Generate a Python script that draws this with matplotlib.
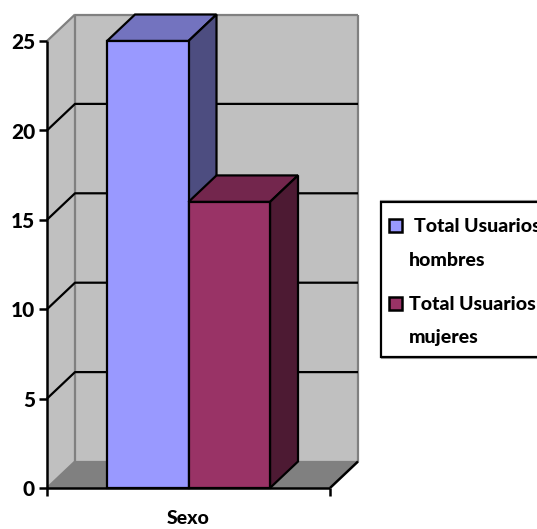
import matplotlib
matplotlib.use('Agg')
import matplotlib.pyplot as plt
from matplotlib.patches import Polygon, Rectangle

categoria = 'Sexo'
series = ['Total Usuarios\nhombres', 'Total Usuarios\nmujeres']
valores = [25, 16]
ticks_y = [0, 5, 10, 15, 20, 25]

W, H = 537, 529
plt.rcParams['font.family'] = ['Lato', 'DejaVu Sans']

fig = plt.figure(figsize=(W / 100, H / 100), dpi=100)
# plano frontal: 47..330 px en x, 488..41 px en y
ax = fig.add_axes([47 / W, 1 - 488 / H, 283 / W, 447 / H])
ax.set_xlim(0, 1)
ax.set_ylim(0, 25)
ax.axis('off')

dx = 28 / 283   # profundidad 3D
dy = 26.5 / 17.88
LW = 1.6
PESO = 900


def poly(puntos, color, ec='black', lw=LW, z=2):
    ax.add_patch(Polygon(puntos, closed=True, facecolor=color, edgecolor=ec,
                         linewidth=lw, zorder=z, clip_on=False, joinstyle='miter'))


def linea(xs, ys, color='black', lw=LW, z=1.5):
    ax.plot(xs, ys, color=color, lw=lw, zorder=z, clip_on=False, solid_capstyle='butt')


# paredes y piso
top = ticks_y[-1]
poly([(dx, dy), (1 + dx, dy), (1 + dx, top + dy), (dx, top + dy)], '#c0c0c0', 'none', 0, 1)
poly([(0, 0), (dx, dy), (dx, top + dy), (0, top)], '#c0c0c0', 'none', 0, 1)
poly([(0, 0), (1, 0), (1 + dx, dy), (dx, dy)], '#808080', 'none', 0, 1)
linea([dx, 1 + dx], [top + dy, top + dy], '#808080', 1.6, 1.2)
linea([0, dx], [top, top + dy], '#808080', 1.6, 1.2)
linea([dx, dx], [dy, top + dy], '#808080', 1.6, 1.2)
linea([1 + dx, 1 + dx], [dy, top + dy], '#808080', 1.6, 1.2)
linea([dx, 1 + dx], [dy, dy], '#808080', 1.6, 1.2)
linea([0, dx], [0, dy], '#808080', 1.6, 1.2)

# lineas de cuadricula
for t in ticks_y[1:-1]:
    linea([0, dx, 1 + dx], [t, t + dy, t + dy])

# ejes
linea([0, 0], [-0.45, top], 'black', 1.8, 3)
linea([0, 1], [0, 0], 'black', 1.8, 3)
linea([1, 1 + dx], [0, dy], 'black', 1.8, 1.6)
linea([1, 1], [-0.45, 0], 'black', 1.8, 3)
for t in ticks_y:
    linea([-8 / 283, 0], [t, t], 'black', 1.8, 3)
    ax.text(-12 / 283, t - 0.1, str(t), ha='right', va='center', fontsize=15, fontweight=PESO)

# barras
ancho = 81.5 / 283
inicio = 60 / 283
frente = ['#9999ff', '#993366']
arriba = ['#7373bf', '#73264d']
lado = ['#4d4d80', '#4d1a33']
for i, v in enumerate(valores):
    x0 = inicio + i * ancho
    x1 = x0 + ancho
    z = 4 + i
    poly([(x0, v), (x1, v), (x1 + dx, v + dy), (x0 + dx, v + dy)], arriba[i], z=z)
    poly([(x1, 0), (x1 + dx, dy), (x1 + dx, v + dy), (x1, v)], lado[i], z=z)
    poly([(x0, 0), (x1, 0), (x1, v), (x0, v)], frente[i], z=z)

ax.text(0.5, -1.72, categoria, ha='center', va='center', fontsize=14, fontweight=PESO)

# leyenda
fig.add_artist(Rectangle((381 / W, 1 - 358 / H), 200 / W, 157 / H, transform=fig.transFigure,
                         facecolor='none', edgecolor='#a0a0a0', linewidth=1.5))
fig.add_artist(Rectangle((381 / W, 1 - 357 / H), 200 / W, 155 / H, transform=fig.transFigure,
                         facecolor='white', edgecolor='black', linewidth=1.6))
for cy, y1, y2, texto, color, tx in [(225, 227, 260, series[0], frente[0], 414),
                                     (303, 305, 338, series[1], frente[1], 409)]:
    fig.add_artist(Rectangle((389 / W, 1 - (cy + 6.5) / H), 13 / W, 13 / H, transform=fig.transFigure,
                             facecolor=color, edgecolor='black', linewidth=1.8))
    l1, l2 = texto.split('\n')
    fig.text(tx / W, 1 - y1 / H, l1, ha='left', va='center', fontsize=14, fontweight=PESO)
    fig.text(409 / W, 1 - y2 / H, l2, ha='left', va='center', fontsize=14, fontweight=PESO)

fig.savefig('out.png', dpi=100)
